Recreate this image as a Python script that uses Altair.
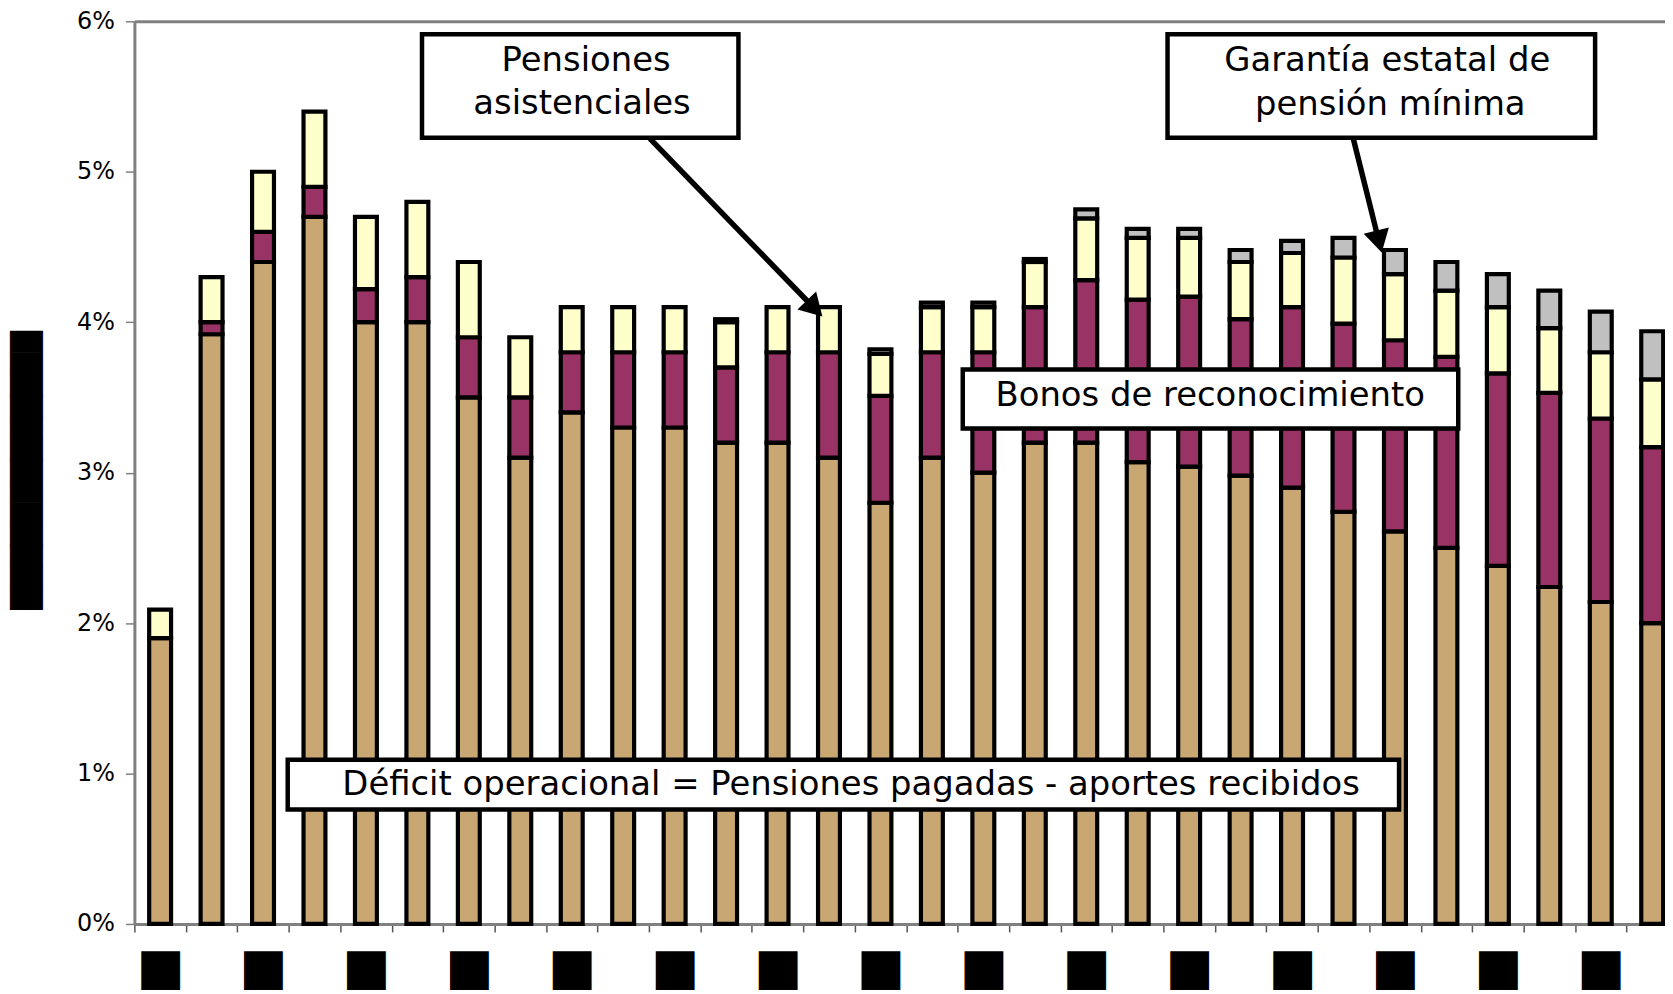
import json
import altair as alt
import pandas as pd

# ---------------- data ----------------
bar_ids = list(range(1, 31))
x_labels = ["█" if i % 2 == 0 else "" for i in range(30)]   # redacted year labels
y_title = "█" * 13                                            # redacted axis title
y_ticks = [0, 1, 2, 3, 4, 5, 6]

deficit = [1.90, 3.92, 4.40, 4.70, 4.00, 4.00, 3.50, 3.10, 3.40, 3.30,
           3.30, 3.20, 3.20, 3.10, 2.80, 3.10, 3.00, 3.20, 3.20, 3.07,
           3.04, 2.98, 2.90, 2.74, 2.61, 2.50, 2.38, 2.24, 2.14, 2.00]
bonos = [0.00, 0.08, 0.20, 0.20, 0.22, 0.30, 0.40, 0.40, 0.40, 0.50,
         0.50, 0.50, 0.60, 0.70, 0.71, 0.70, 0.80, 0.90, 1.08, 1.08,
         1.13, 1.04, 1.20, 1.25, 1.27, 1.27, 1.28, 1.29, 1.22, 1.17]
asistenciales = [0.19, 0.30, 0.40, 0.50, 0.48, 0.50, 0.50, 0.40, 0.30, 0.30,
                 0.30, 0.30, 0.30, 0.30, 0.28, 0.30, 0.30, 0.30, 0.41, 0.41,
                 0.39, 0.38, 0.36, 0.44, 0.44, 0.44, 0.44, 0.43, 0.44, 0.45]
garantia = [0.00, 0.00, 0.00, 0.00, 0.00, 0.00, 0.00, 0.00, 0.00, 0.00,
            0.00, 0.02, 0.00, 0.00, 0.03, 0.03, 0.03, 0.02, 0.06, 0.06,
            0.06, 0.08, 0.08, 0.13, 0.16, 0.19, 0.22, 0.25, 0.27, 0.32]

series_names = ["Déficit operacional", "Bonos de reconocimiento",
                "Pensiones asistenciales", "Garantía estatal de pensión mínima"]
series_colors = ["#C9A772", "#993366", "#FFFFCC", "#C0C0C0"]

# annotation boxes (x in bar-slot units 0..30, y in %)
box_u1 = [5.59, 20.08, 16.10, 2.98]
box_u2 = [11.74, 28.39, 25.73, 24.58]
box_v1 = [5.914, 5.914, 3.685, 1.091]
box_v2 = [5.226, 5.226, 3.294, 0.761]

text_lines = ["Pensiones", "asistenciales", "Garantía estatal de", "pensión mínima",
              "Bonos de reconocimiento",
              "Déficit operacional = Pensiones pagadas - aportes recibidos"]
text_u = [8.78, 8.70, 24.35, 24.41, 20.91, 13.93]
text_v = [5.735, 5.451, 5.735, 5.444, 3.506, 0.926]

arrow_u1 = [10.02, 23.69]
arrow_v1 = [5.22, 5.22]
arrow_u2 = [13.22, 24.19]
arrow_v2 = [4.091, 4.536]
arrow_angle = [136, 166]

# ---------------- tables ----------------
rows = []
for k, (name, vals) in enumerate(zip(series_names, [deficit, bonos, asistenciales, garantia])):
    for b, v in zip(bar_ids, vals):
        rows.append({"bar": b, "serie": name, "k": k, "v": v})
df = pd.DataFrame(rows)

boxes = pd.DataFrame({"u1": box_u1, "u2": box_u2, "v1": box_v1, "v2": box_v2})
texts = pd.DataFrame({"t": text_lines, "u": text_u, "v": text_v})
arrows = pd.DataFrame({"u1": arrow_u1, "v1": arrow_v1, "u2": arrow_u2, "v2": arrow_v2})
heads = pd.DataFrame({"u": arrow_u2, "v": arrow_v2, "a": arrow_angle})

X_RANGE = [0, 1551]
FONT = "DejaVu Sans"

ux = alt.Scale(domain=[0, 30], range=X_RANGE, nice=False, zero=False)
vy = alt.Scale(domain=[0, 6], nice=False)

bars = alt.Chart(df).transform_filter("datum.v > 0").mark_bar(
    size=22, stroke="black", strokeWidth=4.2
).encode(
    x=alt.X("bar:O", sort=bar_ids,
            scale=alt.Scale(range=X_RANGE, paddingInner=0, paddingOuter=0),
            axis=alt.Axis(title=None,
                          labelExpr=json.dumps(x_labels, ensure_ascii=False) + "[datum.value - 1]",
                          labelAngle=0, labelFont="Noto Sans CJK JP", labelFontSize=39,
                          labelColor="black",
                          labelBaseline="top", labelPadding=22, labelOverlap=False,
                          tickBand="extent", tickSize=8, tickColor="#555555", tickWidth=1.5,
                          domainColor="#808080", domainWidth=3)),
    y=alt.Y("v:Q", stack="zero", scale=vy,
            axis=alt.Axis(values=y_ticks, labelExpr="datum.value + '%'",
                          labelFont=FONT, labelFontSize=24, labelColor="black", labelPadding=11,
                          tickSize=9, tickColor="#808080", tickWidth=1.5,
                          domainColor="#808080", domainWidth=3,
                          grid=True, gridColor="#808080", gridWidth=3,
                          gridOpacity={"condition": {"test": "datum.value == 6", "value": 1}, "value": 0},
                          title=y_title, titleFont=FONT, titleFontSize=28, titleColor="black",
                          titleFontWeight="normal", titleX=-107.5, titleY=451, titleAngle=-90,
                          titleAlign="center", titleBaseline="middle")),
    color=alt.Color("serie:N", scale=alt.Scale(domain=series_names, range=series_colors), legend=None),
    order=alt.Order("k:Q", sort="ascending"),
)

box_layer = alt.Chart(boxes).mark_rect(fill="white", stroke="black", strokeWidth=4.5).encode(
    x=alt.X("u1:Q", scale=ux, axis=None), x2="u2",
    y=alt.Y("v1:Q", scale=vy, axis=None), y2="v2",
)

text_layer = alt.Chart(texts).mark_text(
    font=FONT, fontSize=34, color="black", align="center", baseline="middle"
).encode(
    x=alt.X("u:Q", scale=ux, axis=None),
    y=alt.Y("v:Q", scale=vy, axis=None),
    text="t:N",
)

arrow_layer = alt.Chart(arrows).mark_rule(color="black", strokeWidth=5.5).encode(
    x=alt.X("u1:Q", scale=ux, axis=None), x2="u2",
    y=alt.Y("v1:Q", scale=vy, axis=None), y2="v2",
)

head_layer = alt.Chart(heads).mark_point(
    shape="triangle-up", filled=True, size=680, color="black", opacity=1
).encode(
    x=alt.X("u:Q", scale=ux, axis=None),
    y=alt.Y("v:Q", scale=vy, axis=None),
    angle=alt.Angle("a:Q", scale=None),
)

chart = alt.layer(bars, box_layer, text_layer, arrow_layer, head_layer).resolve_scale(
    x="independent", y="independent"
).properties(
    width=1538, height=907,
    autosize=alt.AutoSizeParams(type="none"),
    padding={"left": 127, "top": 11, "right": 0, "bottom": 68},
    background="white",
).configure_view(stroke=None)

chart.save("out.html", embed_options={"renderer": "svg", "actions": False})
